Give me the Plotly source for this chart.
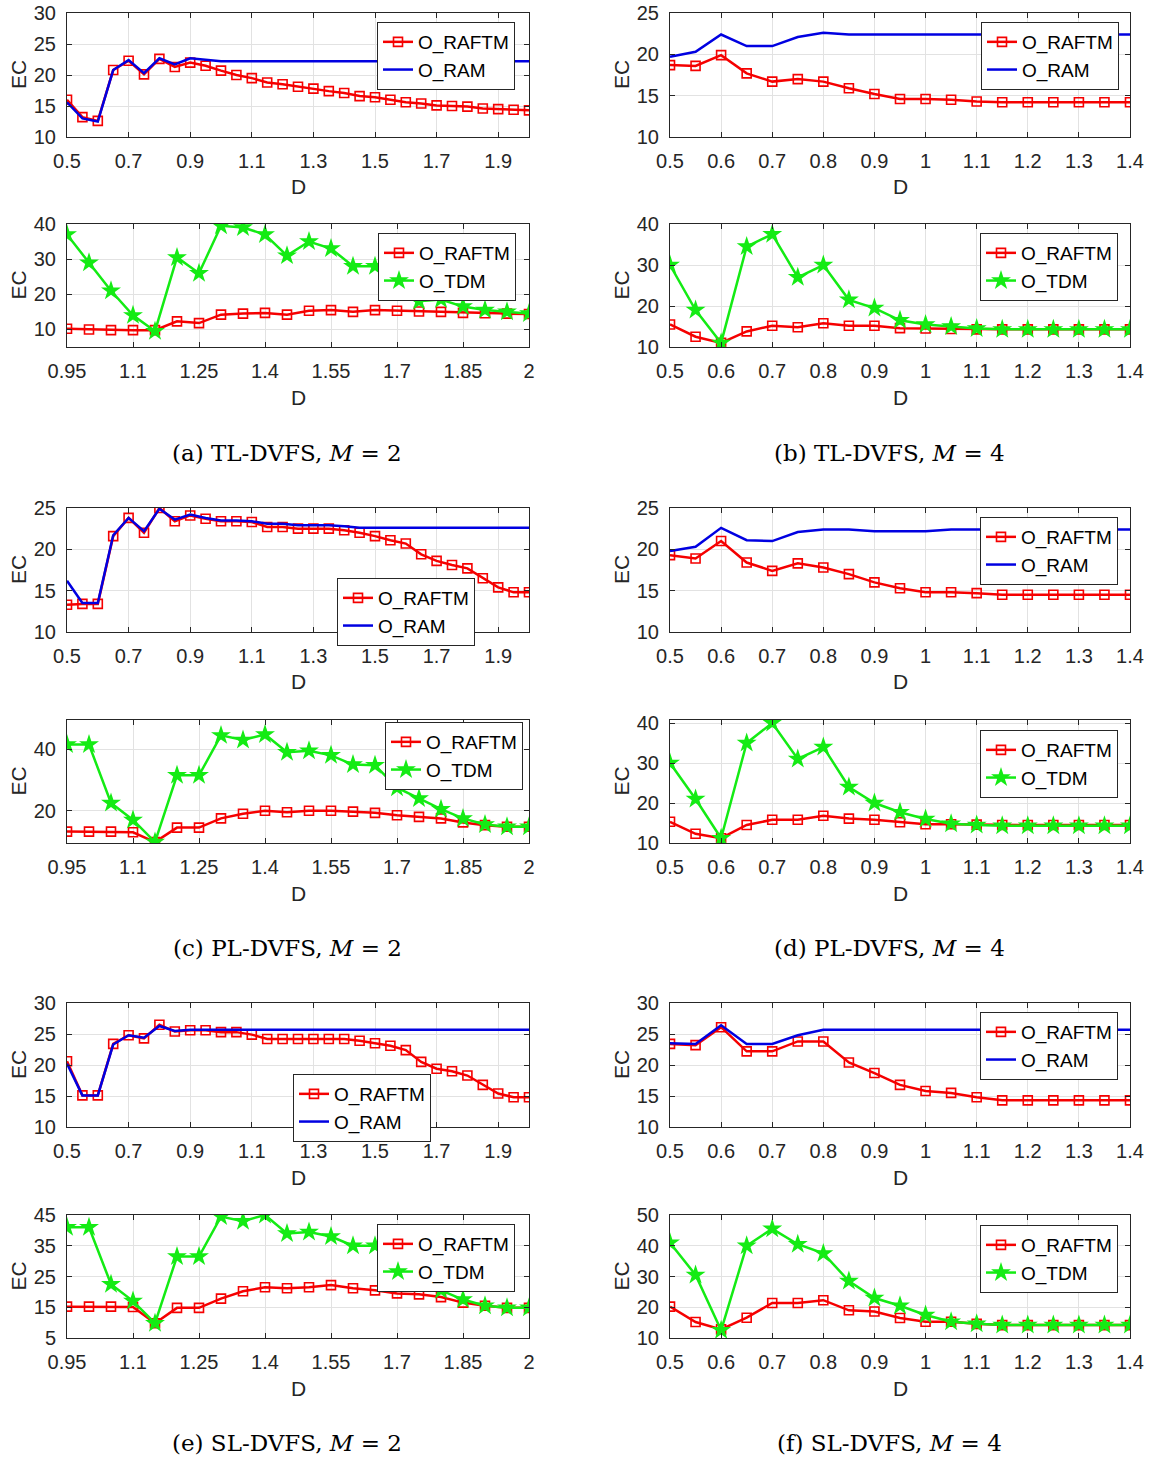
import plotly.graph_objects as go

W, H = 1150, 1459

# ---------------- data ----------------
D_LONG = [0.5, 0.55, 0.6, 0.65, 0.7, 0.75, 0.8, 0.85, 0.9, 0.95, 1.0, 1.05, 1.1, 1.15, 1.2, 1.25,
          1.3, 1.35, 1.4, 1.45, 1.5, 1.55, 1.6, 1.65, 1.7, 1.75, 1.8, 1.85, 1.9, 1.95, 2.0]
D_MID = [0.95, 1.0, 1.05, 1.1, 1.15, 1.2, 1.25, 1.3, 1.35, 1.4, 1.45, 1.5, 1.55, 1.6, 1.65,
         1.7, 1.75, 1.8, 1.85, 1.9, 1.95, 2.0]
D_SHORT = [0.5, 0.55, 0.6, 0.65, 0.7, 0.75, 0.8, 0.85, 0.9, 0.95, 1.0, 1.05, 1.1, 1.15, 1.2,
           1.25, 1.3, 1.35, 1.4]

LONG_TICKS = [0.5, 0.7, 0.9, 1.1, 1.3, 1.5, 1.7, 1.9]
LONG_TICK_TEXT = ["0.5", "0.7", "0.9", "1.1", "1.3", "1.5", "1.7", "1.9"]
MID_TICKS = [0.95, 1.1, 1.25, 1.4, 1.55, 1.7, 1.85, 2.0]
MID_TICK_TEXT = ["0.95", "1.1", "1.25", "1.4", "1.55", "1.7", "1.85", "2"]
SHORT_TICKS = [0.5, 0.6, 0.7, 0.8, 0.9, 1.0, 1.1, 1.2, 1.3, 1.4]
SHORT_TICK_TEXT = ["0.5", "0.6", "0.7", "0.8", "0.9", "1", "1.1", "1.2", "1.3", "1.4"]

# (a) TL-DVFS, M=2
A_TOP_RAFTM = [16.0, 13.2, 12.6, 20.8, 22.3, 20.1, 22.6, 21.3, 22.0, 21.5, 20.7, 20.0, 19.5, 18.8,
               18.5, 18.1, 17.8, 17.4, 17.1, 16.6, 16.4, 16.0, 15.6, 15.4, 15.1, 15.0, 14.9, 14.6,
               14.5, 14.4, 14.3]
A_TOP_RAM = [15.6, 13.0, 12.5, 20.8, 22.4, 20.3, 22.7, 21.7, 22.7, 22.4, 22.2, 22.2, 22.2, 22.2,
             22.2, 22.2, 22.2, 22.2, 22.2, 22.2, 22.2, 22.2, 22.2, 22.2, 22.2, 22.2, 22.2, 22.2,
             22.2, 22.2, 22.2]
A_BOT_RAFTM = [10.2, 10.0, 9.8, 9.8, 9.8, 12.3, 11.8, 14.2, 14.5, 14.7, 14.2, 15.3, 15.5, 15.0,
               15.5, 15.3, 15.1, 15.0, 14.7, 14.6, 14.5, 14.4]
A_BOT_TDM = [37.0, 29.0, 21.0, 14.0, 9.5, 30.5, 26.0, 39.5, 39.0, 37.0, 31.0, 35.0, 33.0, 28.0,
             28.0, 24.0, 18.0, 18.5, 16.5, 15.5, 15.0, 14.5]

# (b) TL-DVFS, M=4
B_TOP_RAFTM = [18.7, 18.6, 19.9, 17.7, 16.7, 17.0, 16.7, 15.9, 15.2, 14.6, 14.6, 14.5, 14.3, 14.2,
               14.2, 14.2, 14.2, 14.2, 14.2]
B_TOP_RAM = [19.7, 20.3, 22.4, 21.0, 21.0, 22.1, 22.6, 22.4, 22.4, 22.4, 22.4, 22.4, 22.4, 22.4,
             22.4, 22.4, 22.4, 22.4, 22.4]
B_BOT_RAFTM = [15.5, 12.5, 11.0, 13.8, 15.2, 14.8, 15.8, 15.2, 15.2, 14.6, 14.5, 14.4, 14.3, 14.3,
               14.3, 14.3, 14.3, 14.3, 14.3]
B_BOT_TDM = [30.0, 19.0, 11.0, 34.5, 37.5, 27.0, 30.0, 21.5, 19.5, 16.5, 15.5, 15.0, 14.5, 14.3,
             14.3, 14.3, 14.3, 14.3, 14.3]

# (c) PL-DVFS, M=2
C_TOP_RAFTM = [13.3, 13.4, 13.4, 21.6, 23.8, 22.0, 25.0, 23.4, 24.1, 23.7, 23.4, 23.4, 23.3, 22.7,
               22.7, 22.5, 22.5, 22.5, 22.3, 22.0, 21.6, 21.1, 20.7, 19.4, 18.6, 18.1, 17.7, 16.5,
               15.4, 14.8, 14.8]
C_TOP_RAM = [16.2, 13.5, 13.5, 21.7, 23.8, 22.2, 24.9, 23.6, 24.2, 23.8, 23.5, 23.5, 23.4, 23.1,
             23.1, 22.9, 22.9, 22.9, 22.8, 22.6, 22.6, 22.6, 22.6, 22.6, 22.6, 22.6, 22.6, 22.6,
             22.6, 22.6, 22.6]
C_BOT_RAFTM = [13.2, 13.2, 13.2, 13.0, 9.8, 14.5, 14.5, 17.5, 19.0, 20.0, 19.5, 20.0, 20.0, 19.7,
               19.3, 18.5, 18.0, 17.5, 16.2, 15.3, 14.8, 14.8]
C_BOT_TDM = [41.5, 41.5, 22.5, 17.0, 9.8, 31.5, 31.5, 44.5, 43.0, 44.8, 39.0, 39.5, 38.0, 35.0,
             34.8, 27.5, 24.0, 20.5, 17.5, 15.5, 14.8, 14.8]

# (d) PL-DVFS, M=4
D_TOP_RAFTM = [19.3, 18.9, 21.0, 18.4, 17.4, 18.3, 17.8, 17.0, 16.0, 15.3, 14.8, 14.8, 14.7, 14.5,
               14.5, 14.5, 14.5, 14.5, 14.5]
D_TOP_RAM = [19.8, 20.3, 22.6, 21.1, 21.0, 22.1, 22.4, 22.4, 22.2, 22.2, 22.2, 22.4, 22.4, 22.4,
             22.4, 22.4, 22.4, 22.4, 22.4]
D_BOT_RAFTM = [15.3, 12.3, 11.2, 14.5, 15.8, 15.8, 16.8, 16.1, 15.8, 15.2, 14.7, 14.7, 14.6, 14.5,
               14.5, 14.5, 14.5, 14.5, 14.5]
D_BOT_TDM = [30.0, 21.0, 11.2, 35.0, 40.0, 31.0, 34.0, 24.0, 20.0, 17.7, 16.0, 14.8, 14.5, 14.3,
             14.3, 14.3, 14.3, 14.3, 14.3]

# (e) SL-DVFS, M=2
E_TOP_RAFTM = [20.6, 15.1, 15.1, 23.4, 24.8, 24.3, 26.5, 25.4, 25.6, 25.6, 25.3, 25.3, 24.9, 24.2,
               24.2, 24.2, 24.2, 24.2, 24.2, 23.9, 23.5, 23.1, 22.4, 20.5, 19.4, 19.0, 18.3, 16.8,
               15.4, 14.8, 14.8]
E_TOP_RAM = [20.2, 15.1, 15.1, 23.3, 24.8, 24.4, 26.3, 25.5, 25.7, 25.7, 25.6, 25.7, 25.7, 25.7,
             25.7, 25.7, 25.7, 25.7, 25.7, 25.7, 25.7, 25.7, 25.7, 25.7, 25.7, 25.7, 25.7, 25.7,
             25.7, 25.7, 25.7]
E_BOT_RAFTM = [15.2, 15.2, 15.2, 15.1, 9.8, 14.8, 14.8, 17.8, 20.2, 21.5, 21.2, 21.5, 22.2, 21.2,
               20.5, 19.5, 19.2, 18.3, 16.5, 15.5, 14.8, 14.8]
E_BOT_TDM = [41.0, 41.0, 22.5, 17.0, 9.8, 31.5, 31.5, 44.5, 43.0, 45.0, 39.0, 39.5, 38.0, 35.0,
             35.0, 28.0, 24.0, 20.5, 17.5, 15.5, 14.8, 14.8]

# (f) SL-DVFS, M=4
F_TOP_RAFTM = [23.4, 23.2, 26.1, 22.2, 22.2, 23.8, 23.8, 20.4, 18.7, 16.8, 15.8, 15.5, 14.8, 14.3,
               14.3, 14.3, 14.3, 14.3, 14.3]
F_TOP_RAM = [23.5, 23.4, 26.4, 23.4, 23.4, 24.8, 25.7, 25.7, 25.7, 25.7, 25.7, 25.7, 25.7, 25.7,
             25.7, 25.7, 25.7, 25.7, 25.7]
F_BOT_RAFTM = [20.2, 15.2, 12.8, 16.6, 21.4, 21.4, 22.3, 19.0, 18.6, 16.5, 15.3, 15.3, 14.6, 14.2,
               14.2, 14.2, 14.2, 14.2, 14.2]
F_BOT_TDM = [41.0, 30.5, 12.5, 40.0, 45.5, 40.5, 37.5, 28.5, 23.0, 20.5, 17.5, 15.3, 14.6, 14.2,
             14.2, 14.2, 14.2, 14.2, 14.2]

CAPTIONS = ["(a) TL-DVFS, <i>M</i> = 2", "(b) TL-DVFS, <i>M</i> = 4",
            "(c) PL-DVFS, <i>M</i> = 2", "(d) PL-DVFS, <i>M</i> = 4",
            "(e) SL-DVFS, <i>M</i> = 2", "(f) SL-DVFS, <i>M</i> = 4"]

# ---------------- styles / layout ----------------
RED = "rgb(245,0,0)"
BLUE = "rgb(0,0,225)"
GREEN = "rgb(20,235,20)"
AX = "#262626"
GRID = "#e2e2e2"
SANS = "Liberation Sans, Arial, sans-serif"
SERIF = "DejaVu Serif, serif"

COL_X = [(67, 529), (670, 1130)]
ROW_Y = [(13, 137), (224, 347), (508, 632), (720, 843), (1003, 1127), (1215, 1338)]
CAPTION_Y = [453, 948, 1443]


def raftm(y, x, leg):
    return go.Scatter(x=x, y=y, name="O_RAFTM", mode="lines+markers", legend=leg,
                      line=dict(color=RED, width=2.5),
                      marker=dict(symbol="square-open", size=9, color=RED, line=dict(width=1.6)))


def ram(y, x, leg):
    return go.Scatter(x=x, y=y, name="O_RAM", mode="lines", legend=leg,
                      line=dict(color=BLUE, width=2.5))


def tdm(y, x, leg):
    return go.Scatter(x=x, y=y, name="O_TDM", mode="lines+markers", legend=leg,
                      line=dict(color=GREEN, width=2.5),
                      marker=dict(symbol="star", size=15, color=GREEN, line=dict(width=0)))


# panel: (row, col, x, kind, raftm, other, yrange, yticks, legend right/top px)
PANELS = [
    (0, 0, D_LONG, "ram", A_TOP_RAFTM, A_TOP_RAM, [10, 30], [10, 15, 20, 25, 30], (515, 22)),
    (1, 0, D_MID, "tdm", A_BOT_RAFTM, A_BOT_TDM, [5, 40], [10, 20, 30, 40], (516, 233)),
    (0, 1, D_SHORT, "ram", B_TOP_RAFTM, B_TOP_RAM, [10, 25], [10, 15, 20, 25], (1119, 22)),
    (1, 1, D_SHORT, "tdm", B_BOT_RAFTM, B_BOT_TDM, [10, 40], [10, 20, 30, 40], (1118, 233)),
    (2, 0, D_LONG, "ram", C_TOP_RAFTM, C_TOP_RAM, [10, 25], [10, 15, 20, 25], (475, 578)),
    (3, 0, D_MID, "tdm", C_BOT_RAFTM, C_BOT_TDM, [9.5, 49.5], [20, 40], (523, 722)),
    (2, 1, D_SHORT, "ram", D_TOP_RAFTM, D_TOP_RAM, [10, 25], [10, 15, 20, 25], (1118, 517)),
    (3, 1, D_SHORT, "tdm", D_BOT_RAFTM, D_BOT_TDM, [10, 40.75], [10, 20, 30, 40], (1118, 730)),
    (4, 0, D_LONG, "ram", E_TOP_RAFTM, E_TOP_RAM, [10, 30], [10, 15, 20, 25, 30], (431, 1074)),
    (5, 0, D_MID, "tdm", E_BOT_RAFTM, E_BOT_TDM, [5, 45], [5, 15, 25, 35, 45], (515, 1224)),
    (4, 1, D_SHORT, "ram", F_TOP_RAFTM, F_TOP_RAM, [10, 30], [10, 15, 20, 25, 30], (1118, 1012)),
    (5, 1, D_SHORT, "tdm", F_BOT_RAFTM, F_BOT_TDM, [10, 50], [10, 20, 30, 40, 50], (1118, 1225)),
]

fig = go.Figure()
layout = dict(width=W, height=H, autosize=False, margin=dict(l=0, r=0, t=0, b=0, pad=0),
              paper_bgcolor="white", plot_bgcolor="white", showlegend=True)
annotations = []

for i, (row, col, xs, kind, yr, yo, yrange, yticks, legpos) in enumerate(PANELS):
    n = i + 1
    xa = "x" if n == 1 else f"x{n}"
    ya = "y" if n == 1 else f"y{n}"
    leg = "legend" if n == 1 else f"legend{n}"
    t1 = raftm(yr, xs, leg)
    t2 = ram(yo, xs, leg) if kind == "ram" else tdm(yo, xs, leg)
    for t in (t1, t2):
        t.update(xaxis=xa, yaxis=ya)
    fig.add_trace(t1)
    fig.add_trace(t2)

    if xs is D_LONG:
        tv, tt = LONG_TICKS, LONG_TICK_TEXT
    elif xs is D_MID:
        tv, tt = MID_TICKS, MID_TICK_TEXT
    else:
        tv, tt = SHORT_TICKS, SHORT_TICK_TEXT
    x0, x1 = COL_X[col]
    top, bot = ROW_Y[row]
    common = dict(showline=True, linecolor=AX, linewidth=1, mirror="ticks", ticks="inside",
                  ticklen=5, tickcolor=AX, tickwidth=1, showgrid=True, gridcolor=GRID,
                  gridwidth=1, zeroline=False, tickfont=dict(family=SANS, size=20, color=AX),
                  ticklabelstandoff=6, automargin=False)
    layout["xaxis" if n == 1 else f"xaxis{n}"] = dict(
        common, domain=[x0 / W, x1 / W], range=[xs[0], xs[-1]], tickvals=tv, ticktext=tt,
        anchor=ya)
    layout["yaxis" if n == 1 else f"yaxis{n}"] = dict(
        common, domain=[1 - bot / H, 1 - top / H], range=yrange, tickvals=yticks, anchor=xa)
    lx, ly = legpos
    layout[leg] = dict(x=lx / W, y=1 - ly / H, xanchor="right", yanchor="top",
                       xref="paper", yref="paper", bgcolor="white", bordercolor=AX,
                       borderwidth=1, traceorder="normal",
                       font=dict(family=SANS, size=19, color="black"),
                       itemwidth=30, tracegroupgap=0)
    annotations.append(dict(text="D", x=(x0 + x1) / 2 / W, y=1 - (bot + 50) / H, xref="paper",
                            yref="paper", showarrow=False, xanchor="center", yanchor="middle",
                            font=dict(family=SANS, size=21, color=AX)))
    ecx = 18 if col == 0 else 621
    annotations.append(dict(text="EC", x=ecx / W, y=1 - (top + bot) / 2 / H, xref="paper",
                            yref="paper", showarrow=False, xanchor="center", yanchor="middle",
                            textangle=-90, font=dict(family=SANS, size=21, color=AX)))

for k, cap in enumerate(CAPTIONS):
    col = k % 2
    r = k // 2
    cx = 287 if col == 0 else 889
    annotations.append(dict(text=cap, x=cx / W, y=1 - CAPTION_Y[r] / H, xref="paper",
                            yref="paper", showarrow=False, xanchor="center", yanchor="middle",
                            font=dict(family=SERIF, size=23, color="black")))

layout["annotations"] = annotations
fig.update_layout(**layout)
fig.write_html("out.html")
